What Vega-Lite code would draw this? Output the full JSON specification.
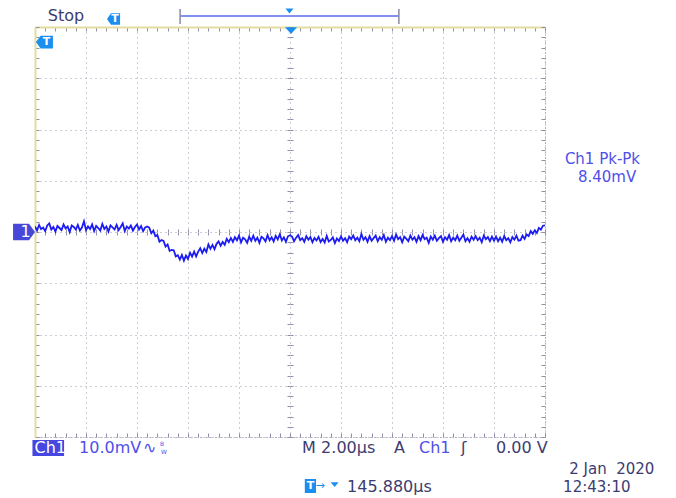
{
  "$schema": "https://vega.github.io/schema/vega-lite/v6.json",
  "width": 510,
  "height": 410,
  "autosize": {"type": "none"},
  "padding": {"left": 35, "top": 27, "right": 131, "bottom": 61},
  "background": "white",
  "config": {"view": {"stroke": null}, "font": "DejaVu Sans", "text": {"font": "DejaVu Sans"}},
  "datasets": {
    "trace": [
      {"t":-10,"v":1.08},{"t":-9.92,"v":0.28},{"t":-9.84,"v":1.38},{"t":-9.76,"v":0.58},{"t":-9.68,"v":0.88},{"t":-9.6,"v":0.18},{"t":-9.52,"v":1.28},{"t":-9.44,"v":1.68},{"t":-9.36,"v":0.48},{"t":-9.28,"v":0.98},
      {"t":-9.2,"v":0.08},{"t":-9.12,"v":1.18},{"t":-9.04,"v":0.78},{"t":-8.96,"v":0.38},{"t":-8.88,"v":1.48},{"t":-8.8,"v":0.68},{"t":-8.72,"v":1.08},{"t":-8.64,"v":-0.02},{"t":-8.56,"v":1.28},{"t":-8.48,"v":0.98},
      {"t":-8.4,"v":0.48},{"t":-8.32,"v":1.38},{"t":-8.24,"v":0.28},{"t":-8.16,"v":0.88},{"t":-8.08,"v":2.08},{"t":-8.0,"v":0.38},{"t":-7.92,"v":1.08},{"t":-7.84,"v":0.58},{"t":-7.76,"v":1.48},{"t":-7.68,"v":0.18},
      {"t":-7.6,"v":1.18},{"t":-7.52,"v":0.78},{"t":-7.44,"v":0.28},{"t":-7.36,"v":1.58},{"t":-7.28,"v":0.58},{"t":-7.2,"v":1.08},{"t":-7.12,"v":0.08},{"t":-7.04,"v":1.28},{"t":-6.96,"v":0.88},{"t":-6.88,"v":0.48},
      {"t":-6.8,"v":1.38},{"t":-6.72,"v":0.38},{"t":-6.64,"v":0.98},{"t":-6.56,"v":1.68},{"t":-6.48,"v":0.18},{"t":-6.4,"v":1.08},{"t":-6.32,"v":0.68},{"t":-6.24,"v":1.28},{"t":-6.16,"v":0.28},{"t":-6.08,"v":0.98},
      {"t":-6.0,"v":1.48},{"t":-5.92,"v":0.48},{"t":-5.84,"v":1.18},{"t":-5.76,"v":0.18},{"t":-5.68,"v":0.88},{"t":-5.6,"v":1.08},{"t":-5.52,"v":0.84},{"t":-5.44,"v":-0.24},{"t":-5.36,"v":0.27},{"t":-5.28,"v":-0.81},
      {"t":-5.2,"v":-0.6},{"t":-5.12,"v":-1.88},{"t":-5.04,"v":-1.56},{"t":-4.96,"v":-1.75},{"t":-4.88,"v":-2.83},{"t":-4.8,"v":-2.42},{"t":-4.72,"v":-3.7},{"t":-4.64,"v":-3.48},{"t":-4.56,"v":-3.57},{"t":-4.48,"v":-4.75},
      {"t":-4.4,"v":-4.53},{"t":-4.32,"v":-5.38},{"t":-4.24,"v":-4.48},{"t":-4.16,"v":-5.58},{"t":-4.08,"v":-4.58},{"t":-4.0,"v":-5.28},{"t":-3.92,"v":-4.04},{"t":-3.84,"v":-4.79},{"t":-3.76,"v":-3.83},{"t":-3.68,"v":-4.77},
      {"t":-3.6,"v":-3.82},{"t":-3.52,"v":-3.16},{"t":-3.44,"v":-4.1},{"t":-3.36,"v":-3.25},{"t":-3.28,"v":-3.89},{"t":-3.2,"v":-2.43},{"t":-3.12,"v":-3.28},{"t":-3.04,"v":-2.52},{"t":-2.96,"v":-3.36},{"t":-2.88,"v":-2.31},
      {"t":-2.8,"v":-1.85},{"t":-2.72,"v":-2.69},{"t":-2.64,"v":-1.94},{"t":-2.56,"v":-2.48},{"t":-2.48,"v":-1.32},{"t":-2.4,"v":-1.97},{"t":-2.32,"v":-1.16},{"t":-2.24,"v":-1.92},{"t":-2.16,"v":-1.02},{"t":-2.08,"v":-1.62},
      {"t":-2.0,"v":-0.72},{"t":-1.92,"v":-2.02},{"t":-1.84,"v":-1.12},{"t":-1.76,"v":-1.42},{"t":-1.68,"v":-2.12},{"t":-1.6,"v":-0.92},{"t":-1.52,"v":-1.72},{"t":-1.44,"v":-0.73},{"t":-1.36,"v":-1.73},{"t":-1.28,"v":-1.13},
      {"t":-1.2,"v":-2.13},{"t":-1.12,"v":-0.93},{"t":-1.04,"v":-1.23},{"t":-0.96,"v":-1.83},{"t":-0.88,"v":-0.63},{"t":-0.8,"v":-1.63},{"t":-0.72,"v":-1.03},{"t":-0.64,"v":-1.84},{"t":-0.56,"v":-0.74},{"t":-0.48,"v":-1.44},
      {"t":-0.4,"v":-0.44},{"t":-0.32,"v":-1.64},{"t":-0.24,"v":-1.04},{"t":-0.16,"v":-1.94},{"t":-0.08,"v":-0.84},{"t":0.0,"v":-0.64},{"t":0.08,"v":-0.9},{"t":0.16,"v":-1.8},{"t":0.24,"v":-1.1},{"t":0.32,"v":-0.6},
      {"t":0.4,"v":-1.6},{"t":0.48,"v":-1.2},{"t":0.56,"v":-1.9},{"t":0.64,"v":-0.8},{"t":0.72,"v":-1.5},{"t":0.8,"v":-1.0},{"t":0.88,"v":-2.0},{"t":0.96,"v":-1.15},{"t":1.04,"v":-1.65},{"t":1.12,"v":-0.95},
      {"t":1.2,"v":-1.95},{"t":1.28,"v":-1.35},{"t":1.36,"v":-2.05},{"t":1.44,"v":-0.75},{"t":1.52,"v":-1.85},{"t":1.6,"v":-1.55},{"t":1.68,"v":-1.05},{"t":1.76,"v":-2.15},{"t":1.84,"v":-1.25},{"t":1.92,"v":-1.75},
      {"t":2.0,"v":-0.85},{"t":2.08,"v":-1.7},{"t":2.16,"v":-1.2},{"t":2.24,"v":-2.0},{"t":2.32,"v":-0.9},{"t":2.4,"v":-1.4},{"t":2.48,"v":-0.7},{"t":2.56,"v":-1.6},{"t":2.64,"v":-1.1},{"t":2.72,"v":-1.8},
      {"t":2.8,"v":-0.4},{"t":2.88,"v":-1.5},{"t":2.96,"v":-1.0},{"t":3.04,"v":-1.9},{"t":3.12,"v":-0.8},{"t":3.2,"v":-1.7},{"t":3.28,"v":-1.2},{"t":3.36,"v":-0.7},{"t":3.44,"v":-1.8},{"t":3.52,"v":-1.0},
      {"t":3.6,"v":-1.5},{"t":3.68,"v":-0.6},{"t":3.76,"v":-1.9},{"t":3.84,"v":-1.1},{"t":3.92,"v":-1.6},{"t":4.0,"v":-0.8},{"t":4.08,"v":-1.7},{"t":4.16,"v":-0.5},{"t":4.24,"v":-1.4},{"t":4.32,"v":-1.0},
      {"t":4.4,"v":-2.0},{"t":4.48,"v":-0.9},{"t":4.56,"v":-1.3},{"t":4.64,"v":-1.8},{"t":4.72,"v":-0.7},{"t":4.8,"v":-1.5},{"t":4.88,"v":-1.0},{"t":4.96,"v":-1.9},{"t":5.04,"v":-0.8},{"t":5.12,"v":-1.6},
      {"t":5.2,"v":-0.6},{"t":5.28,"v":-1.4},{"t":5.36,"v":-1.1},{"t":5.44,"v":-2.1},{"t":5.52,"v":-0.9},{"t":5.6,"v":-1.5},{"t":5.68,"v":-0.7},{"t":5.76,"v":-1.7},{"t":5.84,"v":-1.2},{"t":5.92,"v":-0.8},
      {"t":6.0,"v":-1.9},{"t":6.08,"v":-1.0},{"t":6.16,"v":-1.5},{"t":6.24,"v":-0.6},{"t":6.32,"v":-1.8},{"t":6.4,"v":-1.1},{"t":6.48,"v":-1.6},{"t":6.56,"v":-0.7},{"t":6.64,"v":-1.7},{"t":6.72,"v":-1.1},
      {"t":6.8,"v":-0.5},{"t":6.88,"v":-1.8},{"t":6.96,"v":-1.2},{"t":7.04,"v":-1.9},{"t":7.12,"v":-0.9},{"t":7.2,"v":-1.5},{"t":7.28,"v":-0.8},{"t":7.36,"v":-1.6},{"t":7.44,"v":-1.1},{"t":7.52,"v":-2.0},
      {"t":7.6,"v":-0.7},{"t":7.68,"v":-1.4},{"t":7.76,"v":-1.0},{"t":7.84,"v":-1.8},{"t":7.92,"v":-0.9},{"t":8.0,"v":-1.7},{"t":8.08,"v":-0.9},{"t":8.16,"v":-1.8},{"t":8.24,"v":-1.1},{"t":8.32,"v":-1.9},
      {"t":8.4,"v":-0.8},{"t":8.48,"v":-1.6},{"t":8.56,"v":-1.2},{"t":8.64,"v":-2.0},{"t":8.72,"v":-1.0},{"t":8.8,"v":-1.5},{"t":8.88,"v":-0.7},{"t":8.96,"v":-1.7},{"t":9.04,"v":-1.6},{"t":9.12,"v":-0.73},
      {"t":9.2,"v":-1.35},{"t":9.28,"v":-0.48},{"t":9.36,"v":-0.8},{"t":9.44,"v":0.17},{"t":9.52,"v":-0.35},{"t":9.6,"v":0.33},{"t":9.68,"v":-0.2},{"t":9.76,"v":0.78},{"t":9.84,"v":0.45},{"t":9.92,"v":1.23},
      {"t":10.0,"v":1.3}
    ],
    "darkText": [
      {"t":-9.5,"v":42.15,"label":"Stop"},
      {"t":0.47,"v":-42.05,"label":"M"},
      {"t":1.22,"v":-42.05,"label":"2.00µs"},
      {"t":4.08,"v":-42.05,"label":"A"},
      {"t":6.71,"v":-42.05,"label":"ʃ"},
      {"t":8.08,"v":-42.05,"label":"0.00 V"},
      {"t":2.24,"v":-49.76,"label":"145.880µs"}
    ],
    "dateText": [
      {"t":10.95,"v":-46.24,"label":"2 Jan\u00a0\u00a02020"},
      {"t":10.71,"v":-49.76,"label":"12:43:10"}
    ],
    "blueText": [
      {"t":-8.27,"v":-42.05,"label":"10.0mV"},
      {"t":-5.76,"v":-42.05,"label":"∿"},
      {"t":5.06,"v":-42.05,"label":"Ch1"}
    ],
    "measText": [
      {"t":10.78,"v":14.24,"label":"Ch1 Pk-Pk"},
      {"t":11.29,"v":10.73,"label":"8.40mV"}
    ],
    "bwText": [
      {"t":-5.1,"v":-41.3,"label":"B"},
      {"t":-5.06,"v":-43.0,"label":"W"}
    ],
    "chMarker": [{"t":-10.43,"v":0}],
    "chBox": [{"t":-10.1,"t2":-8.86,"v":-40.59,"v2":-43.71}],
    "whiteText": [
      {"t":-10.57,"v":0,"label":"1"},
      {"t":-10.02,"v":-42.05,"label":"Ch1"}
    ],
    "trigIconBig": [{"t":-9.63,"v":37.07}],
    "trigIconSmall": [{"t":-6.92,"v":41.56}],
    "trigT": [
      {"t":-9.55,"v":37.07,"label":"T"},
      {"t":-6.86,"v":41.56,"label":"T"},
      {"t":0.8,"v":-49.56,"label":"T"}
    ],
    "trigBox": [{"t":0.8,"v":-49.56}],
    "arrowText": [{"t":1.0,"v":-49.56,"label":"→"}],
    "triBig": [{"t":0.04,"v":39.3}],
    "triSmall": [{"t":-0.02,"v":43.12},{"t":1.75,"v":-49.3}],
    "bar": [{"t":-4.31,"t2":4.27,"v":42.15}],
    "brackets": [{"t":-4.31,"v":43.5,"v2":40.6},{"t":4.27,"v":43.5,"v2":40.6}]
  },
  "layer": [
    {
      "data": {"name": "trace"},
      "mark": {"type": "line", "color": "#1c1cf2", "strokeWidth": 1.8, "clip": true},
      "encoding": {
        "x": {"field": "t", "type": "quantitative", "scale": {"domain": [-10, 10], "nice": false, "zero": false},
              "axis": {"orient": "bottom", "values": [-10,-8,-6,-4,-2,0,2,4,6,8,10], "grid": true, "gridDash": [1, 4], "gridColor": "#9a9ab0", "gridWidth": 1, "labels": false, "ticks": false, "domain": false, "title": null}},
        "y": {"field": "v", "type": "quantitative", "scale": {"domain": [-40, 40], "nice": false, "zero": false},
              "axis": {"orient": "left", "values": [-40,-30,-20,-10,0,10,20,30,40], "grid": true, "gridDash": [1, 4], "gridColor": "#9a9ab0", "gridWidth": 1, "labels": false, "ticks": false, "domain": false, "title": null}}
      }
    },
    {
      "data": {"name": "darkText"},
      "mark": {"type": "text", "align": "left", "baseline": "middle", "fontSize": 16, "color": "#3c3c70", "clip": false},
      "encoding": {
        "x": {"field": "t", "type": "quantitative", "scale": {"domain": [-10, 10], "nice": false, "zero": false},
              "axis": {"orient": "bottom", "values": [-10,-9.6,-9.2,-8.8,-8.4,-8,-7.6,-7.2,-6.8,-6.4,-6,-5.6,-5.2,-4.8,-4.4,-4,-3.6,-3.2,-2.8,-2.4,-2,-1.6,-1.2,-0.8,-0.4,0,0.4,0.8,1.2,1.6,2,2.4,2.8,3.2,3.6,4,4.4,4.8,5.2,5.6,6,6.4,6.8,7.2,7.6,8,8.4,8.8,9.2,9.6,10], "grid": false, "labels": false, "ticks": true, "tickSize": -4, "tickColor": "#9090a8", "domain": true, "domainColor": "#9090a8", "domainDash": [1, 2], "title": null}},
        "y": {"field": "v", "type": "quantitative", "scale": {"domain": [-40, 40], "nice": false, "zero": false},
              "axis": {"orient": "left", "values": [-40,-38,-36,-34,-32,-30,-28,-26,-24,-22,-20,-18,-16,-14,-12,-10,-8,-6,-4,-2,0,2,4,6,8,10,12,14,16,18,20,22,24,26,28,30,32,34,36,38,40], "grid": false, "labels": false, "ticks": true, "tickSize": -4, "tickColor": "#9090a8", "domain": true, "domainColor": "#e4dca0", "domainWidth": 2, "title": null}},
        "text": {"field": "label", "type": "nominal"}
      }
    },
    {
      "data": {"name": "dateText"},
      "mark": {"type": "text", "align": "left", "baseline": "middle", "fontSize": 15, "color": "#3c3c70", "clip": false},
      "encoding": {
        "x": {"field": "t", "type": "quantitative", "scale": {"domain": [-10, 10], "nice": false, "zero": false}, "axis": null},
        "y": {"field": "v", "type": "quantitative", "scale": {"domain": [-40, 40], "nice": false, "zero": false}, "axis": null},
        "text": {"field": "label", "type": "nominal"}
      }
    },
    {
      "data": {"name": "blueText"},
      "mark": {"type": "text", "align": "left", "baseline": "middle", "fontSize": 16, "color": "#4f4fe8", "clip": false},
      "encoding": {
        "x": {"field": "t", "type": "quantitative", "scale": {"domain": [-10, 10], "nice": false, "zero": false},
              "axis": {"orient": "top", "values": [-10,-9.6,-9.2,-8.8,-8.4,-8,-7.6,-7.2,-6.8,-6.4,-6,-5.6,-5.2,-4.8,-4.4,-4,-3.6,-3.2,-2.8,-2.4,-2,-1.6,-1.2,-0.8,-0.4,0,0.4,0.8,1.2,1.6,2,2.4,2.8,3.2,3.6,4,4.4,4.8,5.2,5.6,6,6.4,6.8,7.2,7.6,8,8.4,8.8,9.2,9.6,10], "grid": false, "labels": false, "ticks": true, "tickSize": -4, "tickColor": "#9090a8", "domain": true, "domainColor": "#e4dca0", "domainWidth": 2, "title": null}},
        "y": {"field": "v", "type": "quantitative", "scale": {"domain": [-40, 40], "nice": false, "zero": false},
              "axis": {"orient": "right", "values": [-40,-38,-36,-34,-32,-30,-28,-26,-24,-22,-20,-18,-16,-14,-12,-10,-8,-6,-4,-2,0,2,4,6,8,10,12,14,16,18,20,22,24,26,28,30,32,34,36,38,40], "grid": false, "labels": false, "ticks": true, "tickSize": -4, "tickColor": "#9090a8", "domain": true, "domainColor": "#9090a8", "domainDash": [1, 2], "title": null}},
        "text": {"field": "label", "type": "nominal"}
      }
    },
    {
      "data": {"name": "measText"},
      "mark": {"type": "text", "align": "left", "baseline": "middle", "fontSize": 15, "color": "#4f4fe8", "clip": false},
      "encoding": {
        "x": {"field": "t", "type": "quantitative", "scale": {"domain": [-10, 10], "nice": false, "zero": false}, "axis": null},
        "y": {"field": "v", "type": "quantitative", "scale": {"domain": [-40, 40], "nice": false, "zero": false}, "axis": null},
        "text": {"field": "label", "type": "nominal"}
      }
    },
    {
      "data": {"name": "bwText"},
      "mark": {"type": "text", "align": "left", "baseline": "middle", "fontSize": 6, "color": "#4f4fe8", "clip": false},
      "encoding": {
        "x": {"field": "t", "type": "quantitative", "scale": {"domain": [-10, 10], "nice": false, "zero": false}, "axis": null},
        "y": {"field": "v", "type": "quantitative", "scale": {"domain": [-40, 40], "nice": false, "zero": false}, "axis": null},
        "text": {"field": "label", "type": "nominal"}
      }
    },
    {
      "data": {"name": "chMarker"},
      "mark": {"type": "point", "shape": "M-1,-0.75L0.45,-0.75L1,0L0.45,0.75L-1,0.75Z", "size": 484, "filled": true, "color": "#4848d8", "opacity": 1, "clip": false},
      "encoding": {
        "x": {"field": "t", "type": "quantitative", "scale": {"domain": [-10, 10], "nice": false, "zero": false},
              "axis": {"orient": "bottom", "offset": -205, "values": [-10,-9.6,-9.2,-8.8,-8.4,-8,-7.6,-7.2,-6.8,-6.4,-6,-5.6,-5.2,-4.8,-4.4,-4,-3.6,-3.2,-2.8,-2.4,-2,-1.6,-1.2,-0.8,-0.4,0,0.4,0.8,1.2,1.6,2,2.4,2.8,3.2,3.6,4,4.4,4.8,5.2,5.6,6,6.4,6.8,7.2,7.6,8,8.4,8.8,9.2,9.6,10], "grid": false, "labels": false, "ticks": true, "tickSize": 3, "tickColor": "#9090a8", "domain": false, "title": null}},
        "y": {"field": "v", "type": "quantitative", "scale": {"domain": [-40, 40], "nice": false, "zero": false},
              "axis": {"orient": "left", "offset": -255, "values": [-40,-38,-36,-34,-32,-30,-28,-26,-24,-22,-20,-18,-16,-14,-12,-10,-8,-6,-4,-2,0,2,4,6,8,10,12,14,16,18,20,22,24,26,28,30,32,34,36,38,40], "grid": false, "labels": false, "ticks": true, "tickSize": 3, "tickColor": "#9090a8", "domain": false, "title": null}}
      }
    },
    {
      "data": {"name": "trigIconBig"},
      "mark": {"type": "point", "shape": "M-1,0L-0.45,-0.75L1,-0.75L1,0.75L-0.45,0.75Z", "size": 289, "filled": true, "color": "#1a8ff0", "opacity": 1, "clip": false},
      "encoding": {
        "x": {"field": "t", "type": "quantitative", "scale": {"domain": [-10, 10], "nice": false, "zero": false},
              "axis": {"orient": "top", "offset": -205, "values": [-10,-9.6,-9.2,-8.8,-8.4,-8,-7.6,-7.2,-6.8,-6.4,-6,-5.6,-5.2,-4.8,-4.4,-4,-3.6,-3.2,-2.8,-2.4,-2,-1.6,-1.2,-0.8,-0.4,0,0.4,0.8,1.2,1.6,2,2.4,2.8,3.2,3.6,4,4.4,4.8,5.2,5.6,6,6.4,6.8,7.2,7.6,8,8.4,8.8,9.2,9.6,10], "grid": false, "labels": false, "ticks": true, "tickSize": 3, "tickColor": "#9090a8", "domain": false, "title": null}},
        "y": {"field": "v", "type": "quantitative", "scale": {"domain": [-40, 40], "nice": false, "zero": false},
              "axis": {"orient": "right", "offset": -255, "values": [-40,-38,-36,-34,-32,-30,-28,-26,-24,-22,-20,-18,-16,-14,-12,-10,-8,-6,-4,-2,0,2,4,6,8,10,12,14,16,18,20,22,24,26,28,30,32,34,36,38,40], "grid": false, "labels": false, "ticks": true, "tickSize": 3, "tickColor": "#9090a8", "domain": false, "title": null}}
      }
    },
    {
      "data": {"name": "trigIconSmall"},
      "mark": {"type": "point", "shape": "M-1,0L-0.4,-0.9L1,-0.9L1,0.9L-0.4,0.9Z", "size": 169, "filled": true, "color": "#1a8ff0", "opacity": 1, "clip": false},
      "encoding": {
        "x": {"field": "t", "type": "quantitative", "scale": {"domain": [-10, 10], "nice": false, "zero": false}, "axis": null},
        "y": {"field": "v", "type": "quantitative", "scale": {"domain": [-40, 40], "nice": false, "zero": false}, "axis": null}
      }
    },
    {
      "data": {"name": "trigBox"},
      "mark": {"type": "point", "shape": "M-0.8,-1L0.8,-1L0.8,1L-0.8,1Z", "size": 196, "filled": true, "color": "#1a8ff0", "opacity": 1, "clip": false},
      "encoding": {
        "x": {"field": "t", "type": "quantitative", "scale": {"domain": [-10, 10], "nice": false, "zero": false}, "axis": null},
        "y": {"field": "v", "type": "quantitative", "scale": {"domain": [-40, 40], "nice": false, "zero": false}, "axis": null}
      }
    },
    {
      "data": {"name": "triBig"},
      "mark": {"type": "point", "shape": "M-1,-0.55L1,-0.55L0,0.55Z", "size": 144, "filled": true, "color": "#1a8ff0", "opacity": 1, "clip": false},
      "encoding": {
        "x": {"field": "t", "type": "quantitative", "scale": {"domain": [-10, 10], "nice": false, "zero": false}, "axis": null},
        "y": {"field": "v", "type": "quantitative", "scale": {"domain": [-40, 40], "nice": false, "zero": false}, "axis": null}
      }
    },
    {
      "data": {"name": "triSmall"},
      "mark": {"type": "point", "shape": "M-1,-0.6L1,-0.6L0,0.6Z", "size": 64, "filled": true, "color": "#1a8ff0", "opacity": 1, "clip": false},
      "encoding": {
        "x": {"field": "t", "type": "quantitative", "scale": {"domain": [-10, 10], "nice": false, "zero": false}, "axis": null},
        "y": {"field": "v", "type": "quantitative", "scale": {"domain": [-40, 40], "nice": false, "zero": false}, "axis": null}
      }
    },
    {
      "data": {"name": "arrowText"},
      "mark": {"type": "text", "align": "left", "baseline": "middle", "fontSize": 11, "color": "#1a8ff0", "clip": false},
      "encoding": {
        "x": {"field": "t", "type": "quantitative", "scale": {"domain": [-10, 10], "nice": false, "zero": false}, "axis": null},
        "y": {"field": "v", "type": "quantitative", "scale": {"domain": [-40, 40], "nice": false, "zero": false}, "axis": null},
        "text": {"field": "label", "type": "nominal"}
      }
    },
    {
      "data": {"name": "chBox"},
      "mark": {"type": "rect", "color": "#4646e0", "clip": false},
      "encoding": {
        "x": {"field": "t", "type": "quantitative", "scale": {"domain": [-10, 10], "nice": false, "zero": false}, "axis": null},
        "x2": {"field": "t2"},
        "y": {"field": "v", "type": "quantitative", "scale": {"domain": [-40, 40], "nice": false, "zero": false}, "axis": null},
        "y2": {"field": "v2"}
      }
    },
    {
      "data": {"name": "whiteText"},
      "mark": {"type": "text", "align": "left", "baseline": "middle", "fontSize": 16, "color": "white", "clip": false},
      "encoding": {
        "x": {"field": "t", "type": "quantitative", "scale": {"domain": [-10, 10], "nice": false, "zero": false}, "axis": null},
        "y": {"field": "v", "type": "quantitative", "scale": {"domain": [-40, 40], "nice": false, "zero": false}, "axis": null},
        "text": {"field": "label", "type": "nominal"}
      }
    },
    {
      "data": {"name": "trigT"},
      "mark": {"type": "text", "align": "center", "baseline": "middle", "fontSize": 11, "fontWeight": "bold", "color": "white", "clip": false},
      "encoding": {
        "x": {"field": "t", "type": "quantitative", "scale": {"domain": [-10, 10], "nice": false, "zero": false}, "axis": null},
        "y": {"field": "v", "type": "quantitative", "scale": {"domain": [-40, 40], "nice": false, "zero": false}, "axis": null},
        "text": {"field": "label", "type": "nominal"}
      }
    },
    {
      "data": {"name": "bar"},
      "mark": {"type": "rule", "color": "#5b6be8", "strokeWidth": 1.5, "clip": false},
      "encoding": {
        "x": {"field": "t", "type": "quantitative", "scale": {"domain": [-10, 10], "nice": false, "zero": false}, "axis": null},
        "x2": {"field": "t2"},
        "y": {"field": "v", "type": "quantitative", "scale": {"domain": [-40, 40], "nice": false, "zero": false}, "axis": null}
      }
    },
    {
      "data": {"name": "brackets"},
      "mark": {"type": "rule", "color": "#8a8aa8", "strokeWidth": 1.5, "clip": false},
      "encoding": {
        "x": {"field": "t", "type": "quantitative", "scale": {"domain": [-10, 10], "nice": false, "zero": false}, "axis": null},
        "y": {"field": "v", "type": "quantitative", "scale": {"domain": [-40, 40], "nice": false, "zero": false}, "axis": null},
        "y2": {"field": "v2"}
      }
    }
  ],
  "resolve": {"axis": {"x": "independent", "y": "independent"}}
}
